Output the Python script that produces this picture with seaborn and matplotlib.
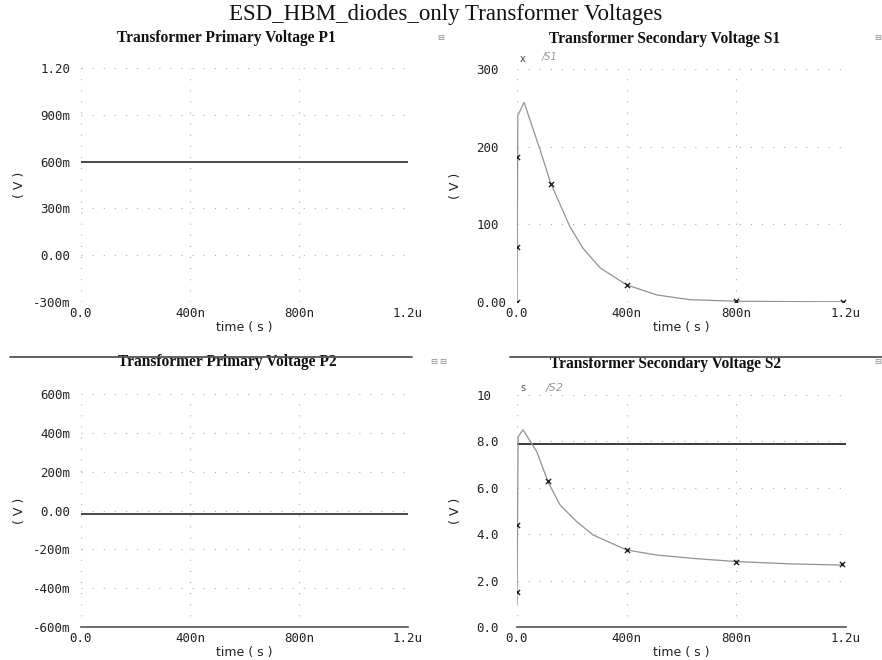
import matplotlib
matplotlib.use("Agg")
import matplotlib.pyplot as plt
from matplotlib.lines import Line2D
from matplotlib.transforms import ScaledTranslation
import pandas as pd
import seaborn as sns

# ---- data -------------------------------------------------------------
x_ticks = [0.0, 400e-9, 800e-9, 1.2e-6]
x_tick_labels = ["0.0", "400n", "800n", "1.2u"]

# Primary P1 (flat)
p1_t = [0.0, 1.2e-6]
p1_v = [0.595, 0.595]
p1_ticks = [1.2, 0.9, 0.6, 0.3, 0.0, -0.3]
p1_tick_labels = ["1.20", "900m", "600m", "300m", "0.00", "-300m"]

# Secondary S1 (HBM pulse)
s1_t = [0.0, 3e-9, 26e-9, 84e-9, 124e-9, 193e-9, 241e-9, 303e-9, 400e-9,
        511e-9, 631e-9, 800e-9, 1000e-9, 1200e-9]
s1_v = [0.0, 240.0, 257.0, 196.0, 152.0, 97.0, 69.0, 44.0, 22.0,
        9.0, 3.0, 1.0, 0.5, 0.3]
s1_mark_t = [0.0, 0.0, 0.0, 124e-9, 400e-9, 800e-9, 1190e-9]
s1_mark_v = [0.0, 71.0, 187.0, 152.0, 22.0, 1.0, 0.4]
s1_ticks = [300, 200, 100, 0]
s1_tick_labels = ["300", "200", "100", "0.00"]

# Primary P2 (flat)
p2_t = [0.0, 1.2e-6]
p2_v = [-0.02, -0.02]
p2_ticks = [0.6, 0.4, 0.2, 0.0, -0.2, -0.4, -0.6]
p2_tick_labels = ["600m", "400m", "200m", "0.00", "-200m", "-400m", "-600m"]

# Secondary S2 (pulse + reference level)
s2_t = [0.0, 4e-9, 22e-9, 72e-9, 113e-9, 157e-9, 218e-9, 277e-9, 400e-9,
        511e-9, 650e-9, 800e-9, 1000e-9, 1185e-9]
s2_v = [1.0, 8.2, 8.5, 7.56, 6.26, 5.26, 4.54, 3.97, 3.32,
        3.10, 2.95, 2.82, 2.72, 2.67]
s2_mark_t = [0.0, 0.0, 113e-9, 400e-9, 800e-9, 1185e-9]
s2_mark_v = [4.4, 1.5, 6.3, 3.3, 2.8, 2.7]
s2_ref_t = [0.0, 1.2e-6]
s2_ref_v = [7.9, 7.9]
s2_ticks = [10, 8, 6, 4, 2, 0]
s2_tick_labels = ["10", "8.0", "6.0", "4.0", "2.0", "0.0"]

# ---- styling ------------------------------------------------------------
sns.set_theme(style="white")
plt.rcParams["font.family"] = ["DejaVu Sans"]

W, H = 882, 660
fig = plt.figure(figsize=(W / 100, H / 100), dpi=100)
fig.patch.set_facecolor("white")


def px_axes(x0, y_top, x1, y_bot):
    return fig.add_axes([x0 / W, 1 - y_bot / H, (x1 - x0) / W, (y_bot - y_top) / H])


ax_p1 = px_axes(81, 68, 408, 302)
ax_s1 = px_axes(517, 69, 846, 302)
ax_p2 = px_axes(81, 394, 408, 627)
ax_s2 = px_axes(517, 395, 846, 627)

GRID = dict(color="#ababab", linestyle=(0, (1, 9)), linewidth=0.8)
CURVE = "#929292"
SOLID = "#2a2a2a"
TICKFONT = dict(family="DejaVu Sans Mono", size=9)


def style_axis(ax, yticks, ylabels, ylim, title, title_x, title_pad, bottom_line):
    ax.set_xlim(0, 1.2e-6)
    ax.set_ylim(*ylim)
    ax.set_xticks(x_ticks)
    ax.set_xticklabels(x_tick_labels, **TICKFONT)
    ax.set_yticks(yticks)
    ax.set_yticklabels(ylabels, **TICKFONT)
    ax.tick_params(axis="y", length=0, pad=29.5, colors="#222222")
    ax.tick_params(axis="x", length=0, pad=3.5, colors="#222222")
    ax.grid(True, **GRID)
    for s in ax.spines.values():
        s.set_visible(False)
    if bottom_line:
        ax.spines["bottom"].set_visible(True)
        ax.spines["bottom"].set_color("#555555")
        ax.spines["bottom"].set_linewidth(1.2)
    ax.set_facecolor("white")
    ax.set_xlabel("time ( s )", fontsize=9, labelpad=1, color="#222222")
    ax.set_ylabel("( V )", fontsize=9, color="#222222")
    ax.yaxis.set_label_coords(-0.168, 0.5)
    ax.set_title(title, family="Liberation Serif", weight="bold", fontsize=11.2,
                 x=title_x, pad=title_pad, color="#111111")


def draw(ax, t, v, color, lw, ls="-"):
    df = pd.DataFrame({"t": t, "v": v})
    sns.lineplot(data=df, x="t", y="v", ax=ax, color=color, linewidth=lw,
                 linestyle=ls, estimator=None, sort=False)


def marks(ax, t, v):
    df = pd.DataFrame({"t": t, "v": v})
    sns.scatterplot(data=df, x="t", y="v", ax=ax, marker="x", s=14,
                    color="#222222", linewidth=1.0, zorder=5)


# P1
draw(ax_p1, p1_t, p1_v, SOLID, 1.2)
style_axis(ax_p1, p1_ticks, p1_tick_labels, (-0.3, 1.2),
           "Transformer Primary Voltage P1", 0.446, 18.5, False)

# S1
draw(ax_s1, s1_t, s1_v, CURVE, 0.9)
marks(ax_s1, s1_mark_t, s1_mark_v)
style_axis(ax_s1, s1_ticks, s1_tick_labels, (0, 300),
           "Transformer Secondary Voltage S1", 0.447, 18.5, False)
ax_s1.text(0.018, 1.02, "x", transform=ax_s1.transAxes, fontsize=7,
           color="#444444", ha="center", va="bottom")
ax_s1.text(0.1, 1.03, "/S1", transform=ax_s1.transAxes, fontsize=7,
           color="#999999", ha="center", va="bottom", style="italic")

# P2
draw(ax_p2, p2_t, p2_v, SOLID, 1.2)
style_axis(ax_p2, p2_ticks, p2_tick_labels, (-0.6, 0.6),
           "Transformer Primary Voltage P2", 0.446, 19.8, True)

# S2
draw(ax_s2, s2_ref_t, s2_ref_v, SOLID, 1.3)
draw(ax_s2, s2_t, s2_v, CURVE, 0.9)
marks(ax_s2, s2_mark_t, s2_mark_v)
style_axis(ax_s2, s2_ticks, s2_tick_labels, (0, 10),
           "Transformer Secondary Voltage S2", 0.450, 19.8, True)
ax_s2.text(0.018, 1.01, "s", transform=ax_s2.transAxes, fontsize=7,
           color="#555555", ha="center", va="bottom")
ax_s2.text(0.115, 1.01, "/S2", transform=ax_s2.transAxes, fontsize=8,
           color="#999999", ha="center", va="bottom", style="italic")

# left-aligned y tick labels with the minus sign hanging into the margin
minus_shift = ScaledTranslation(-7 / 100, 0, fig.dpi_scale_trans)
for ax in (ax_p1, ax_s1, ax_p2, ax_s2):
    for lab in ax.get_yticklabels():
        lab.set_horizontalalignment("left")
        if lab.get_text().startswith("-"):
            lab.set_transform(lab.get_transform() + minus_shift)

# panel separators above the lower row
fig.add_artist(Line2D([10 / W, 412 / W], [1 - 357 / H] * 2, color="#555555", lw=1.3))
fig.add_artist(Line2D([510 / W, 1.0], [1 - 357 / H] * 2, color="#555555", lw=1.3))

# small window icons beside the panel headers
for (ix, iy) in [(441, 38), (878, 38), (434, 362), (443, 362), (878, 362)]:
    fig.text(ix / W, 1 - iy / H, "\u229f", fontsize=6, color="#888888",
             ha="center", va="center")

fig.text(445.5 / W, 1 - 20 / H, "ESD_HBM_diodes_only Transformer Voltages",
         family="Liberation Serif", fontsize=16.5, ha="center", va="baseline",
         color="#111111")

fig.savefig("out.png", dpi=100, facecolor="white")
